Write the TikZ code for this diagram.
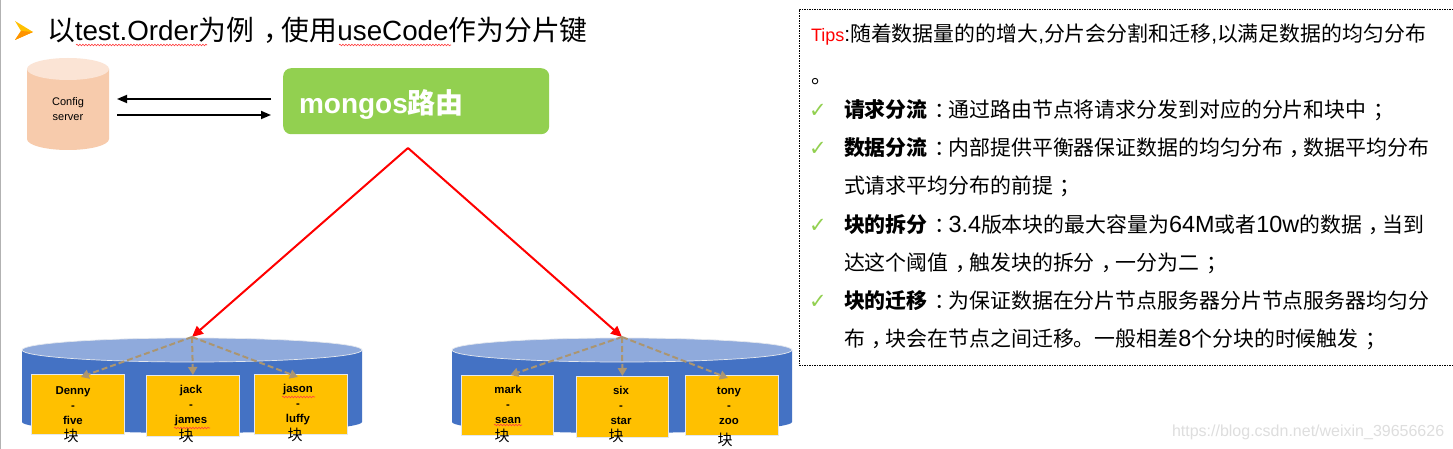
\documentclass[tikz,border=0pt]{standalone}
\usepackage{fontspec}
\setmainfont{Liberation Sans}
\newfontfamily\cjk{Noto Sans CJK SC}
\newfontfamily\dejavu{DejaVu Sans}
\usetikzlibrary{arrows.meta,decorations.pathmorphing}
\newcommand{\zh}[1]{{\cjk #1}}
\newcommand{\cpn}[1]{\makebox[1em][l]{\hspace{0.33em}\cjk #1}}
\newcommand{\lat}[1]{{\fontsize{23.4}{24}\selectfont #1}}
\tikzset{
  x=1pt,y=-1pt,
  txt/.style={anchor=base west,inner sep=0pt,outer sep=0pt},
  tipline/.style={txt,font=\fontsize{20.9}{22}\selectfont},
  checkm/.style={anchor=base west,inner sep=0pt,text=checkgreen,font=\dejavu\fontsize{21}{21}\selectfont},
  shardbox/.style={draw=boxedge,line width=.8pt,fill=shardgold,anchor=north west,inner sep=0pt},
  shardtxt/.style={inner sep=0pt,align=center,font=\bfseries\fontsize{11.4}{15}\selectfont},
  kuai/.style={inner sep=0pt,font=\cjk\fontsize{15}{15}\selectfont},
  redarrow/.style={draw=red,line width=2pt,-{Triangle[length=11pt,width=10pt]}},
  blackarrow/.style={draw=black,line width=1.7pt,-{Triangle[length=10pt,width=8pt]}},
  dasharrow/.style={draw=dashtan,line width=2pt,dash pattern=on 6pt off 3pt,-{Triangle[length=8pt,width=9pt]}},
  squiggle/.style={draw=red!75!white,line width=.6pt,decorate,decoration={snake,amplitude=.8pt,segment length=3pt}},
}
\definecolor{checkgreen}{HTML}{92D050}
\definecolor{boxedge}{HTML}{E4E8EE}
\definecolor{shardgold}{HTML}{FFC000}
\definecolor{dashtan}{HTML}{AB9570}
\definecolor{cylblue}{HTML}{4472C4}
\definecolor{cyltop}{HTML}{8FAADC}
\definecolor{cfgbody}{HTML}{F7CBAC}
\definecolor{cfgtop}{HTML}{FBE4D5}
\newcommand{\shardcyl}[1]{%
  \fill[cylblue] (#1-170,350) -- (#1-170,422) arc[start angle=180,end angle=360,x radius=170,y radius=-11] -- (#1+170,350) -- cycle;
  \fill[cyltop,draw=boxedge,line width=.7pt] (#1,350) ellipse[x radius=170,y radius=12];
}
\begin{document}
\begin{tikzpicture}
\useasboundingbox (0,0) rectangle (1453,449);
\fill[white] (0,0) rectangle (1453,449);
\fill[gray!60] (0,0) rectangle (1.2,449);
% title
\fill[shardgold] (15,21) -- (33,32) -- (15,40) -- (21,31) -- cycle;
\fill[orange!85!yellow] (33,32) -- (15,40) -- (21,31) -- cycle;
\node[txt,font=\fontsize{27.8}{30}\selectfont] (title) at (47,41) {\zh{以}test.Order\zh{为例}\cpn{，}\zh{使用}useCode\zh{作为分片键}};
\draw[squiggle] (76,45) -- (207,45);
\draw[squiggle] (339,45) -- (451,45);
% config server
\fill[cfgbody] (27,69) -- (27,139) arc[start angle=180,end angle=360,x radius=41,y radius=-11] -- (109,69) -- cycle;
\fill[cfgtop] (68,69) ellipse[x radius=41,y radius=11];
\node[inner sep=0pt,align=center,font=\fontsize{11}{15}\selectfont] (cfg) at (68,109) {Config\\server};
% mongos
\node[draw=none,fill=checkgreen,rounded corners=8pt,minimum width=266pt,minimum height=66pt,inner sep=0pt,anchor=north west] (mongos) at (283,68) {};
\node[txt,text=white,font=\bfseries\fontsize{28}{30}\selectfont] (mongost) at (299,114) {mongos\zh{路由}};
\coordinate (cfgA) at (117,99);
\coordinate (mgA) at (271,99);
\coordinate (cfgB) at (117,115);
\coordinate (mgB) at (271,115);
\draw[blackarrow] (mgA) -- (cfgA);
\draw[blackarrow] (cfgB) -- (mgB);
% cylinders
\shardcyl{192}
\shardcyl{622}
\coordinate (apex) at (408,148);
\coordinate (topL) at (192,337);
\coordinate (topR) at (622,337);
\draw[redarrow] (apex) -- (topL);
\draw[redarrow] (apex) -- (topR);
% shard boxes
\node[shardbox,minimum width=93pt,minimum height=60pt] (b1) at (31,374) {};
\node[shardbox,minimum width=93pt,minimum height=61pt] (b2) at (146,375) {};
\node[shardbox,minimum width=93pt,minimum height=60pt] (b3) at (254,374) {};
\node[shardbox,minimum width=92pt,minimum height=60pt] (b4) at (461,375) {};
\node[shardbox,minimum width=92pt,minimum height=61pt] (b5) at (576,376) {};
\node[shardbox,minimum width=93pt,minimum height=60pt] (b6) at (685,375) {};
\draw[dasharrow] (topL) -- ([xshift=3pt,yshift=-3pt]b1.north);
\draw[dasharrow] (topL) -- (b2.north);
\draw[dasharrow] (topL) -- ([xshift=-3pt,yshift=-3pt]b3.north);
\draw[dasharrow] (topR) -- ([xshift=3pt]b4.north);
\draw[dasharrow] (topR) -- (b5.north);
\draw[dasharrow] (topR) -- ([xshift=-4pt,yshift=-3pt]b6.north);
\node[shardtxt] (t1) at (73,406) {Denny\\-\\five};
\node[shardtxt] (t2) at (191,406) {jack\\-\\james};
\node[shardtxt] (t3) at (298,405) {jason\\-\\luffy};
\node[shardtxt] (t4) at (508,404) {mark\\-\\sean};
\node[shardtxt] (t5) at (621,405) {six\\-\\star};
\node[shardtxt] (t6) at (729,406) {tony\\-\\zoo};
\draw[squiggle] (174,428) -- (210,428);
\draw[squiggle] (282,397) -- (315,397);
\draw[squiggle] (494,425) -- (522,425);
\node[kuai] (k1) at (71,436) {块};
\node[kuai] (k2) at (186,436) {块};
\node[kuai] (k3) at (295,435) {块};
\node[kuai] (k4) at (502,436) {块};
\node[kuai] (k5) at (616,436) {块};
\node[kuai] (k6) at (725,440) {块};
% tips
\node[draw=black,dash pattern=on 1.5pt off 1pt,line width=.7pt,minimum width=654pt,minimum height=356pt,inner sep=0pt,anchor=north west] (tipbox) at (799,9) {};
\node[tipline] (l0) at (811,42) {\textcolor{red}{\fontsize{18}{20}\selectfont Tips}:\zh{随着数据量的的增大},\zh{分片会分割和迁移},\zh{以满足数据的均匀分布}};
\node[tipline] (l0b) at (811,84) {\zh{。}};
\node[checkm] (c1) at (809,118) {✓};
\node[tipline] (l1) at (844,118) {{\bfseries\zh{请求分流}}\cpn{：}\zh{通过路由节点将请求分发到对应的分片和块中}\cpn{；}};
\node[checkm] (c2) at (809,156) {✓};
\node[tipline] (l2) at (844,156) {{\bfseries\zh{数据分流}}\cpn{：}\zh{内部提供平衡器保证数据的均匀分布}\cpn{，}\zh{数据平均分布}};
\node[tipline] (l3) at (844,194) {\zh{式请求平均分布的前提}\cpn{；}};
\node[checkm] (c3) at (809,232) {✓};
\node[tipline] (l4) at (844,232) {{\bfseries\zh{块的拆分}}\cpn{：}\lat{3.4}\zh{版本块的最大容量为}\lat{64M}\zh{或者}\lat{10w}\zh{的数据}\cpn{，}\zh{当到}};
\node[tipline] (l5) at (844,270) {\zh{达这个阈值}\cpn{，}\zh{触发块的拆分}\cpn{，}\zh{一分为二}\cpn{；}};
\node[checkm] (c4) at (809,308) {✓};
\node[tipline] (l6) at (844,308) {{\bfseries\zh{块的迁移}}\cpn{：}\zh{为保证数据在分片节点服务器分片节点服务器均匀分}};
\node[tipline] (l7) at (844,346) {\zh{布}\cpn{，}\zh{块会在节点之间迁移。一般相差}\lat{8}\zh{个分块的时候触发}\cpn{；}};
% watermark
\node[txt,text=black!13,font=\fontsize{16}{17}\selectfont] (wm) at (1172,436) {https://blog.csdn.net/weixin\_39656626};
\end{tikzpicture}
\end{document}
